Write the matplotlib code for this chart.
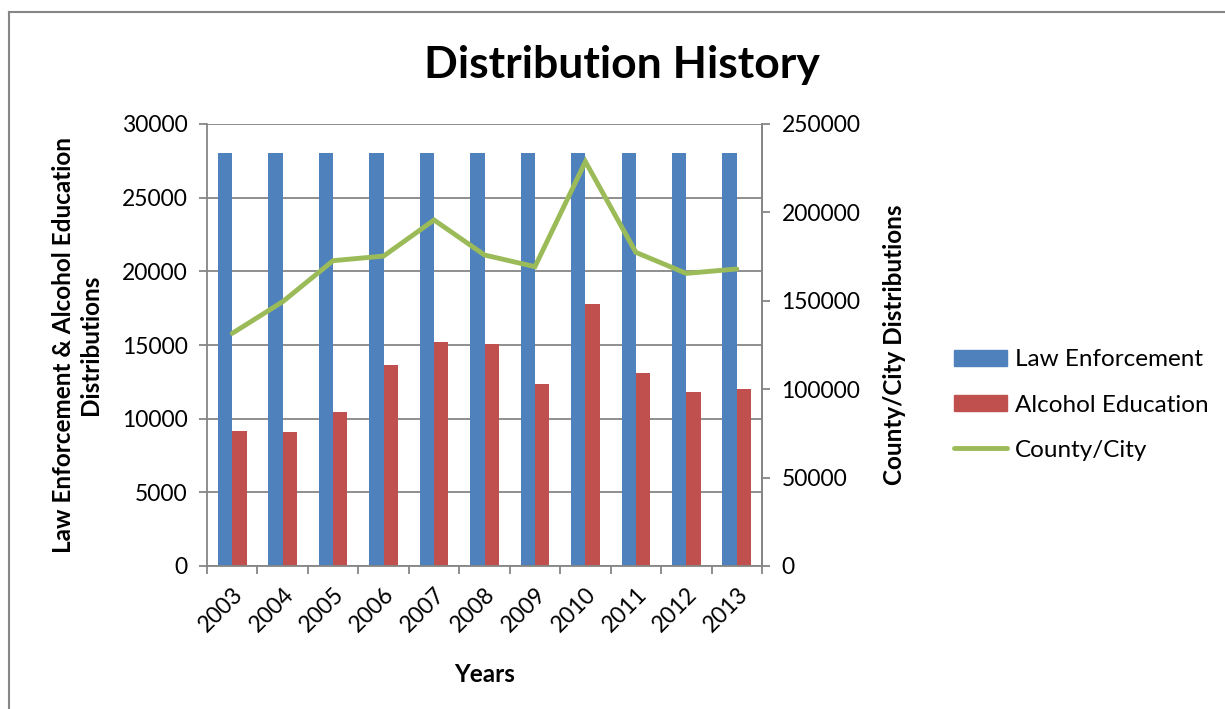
import matplotlib
matplotlib.use("Agg")
import matplotlib.pyplot as plt
import numpy as np
from matplotlib.lines import Line2D

years = ["2003", "2004", "2005", "2006", "2007", "2008", "2009", "2010", "2011", "2012", "2013"]
law_enforcement = [28000, 28000, 28000, 28000, 28000, 28000, 28000, 28000, 28000, 28000, 28000]
alcohol_education = [9160, 9120, 10450, 13620, 15200, 15090, 12350, 17780, 13080, 11830, 12040]
county_city = [131600, 149500, 172700, 175300, 195700, 175900, 169300, 228700, 177400, 165500, 168000]

plt.rcParams['font.family'] = ['Lato', 'DejaVu Sans']

BLUE = "#4F81BD"
RED = "#C0504D"
GREEN = "#9BBB59"
GRID = "#868686"

fig = plt.figure(figsize=(12.25, 7.09), dpi=100)
ax = fig.add_axes([207/1225, 1-566/709, (762-207)/1225, (566-124)/709])

x = np.arange(len(years))
w = 0.283
ax.bar(x - w/2, law_enforcement, width=w, color=BLUE, label="Law Enforcement", zorder=2)
ax.bar(x + w/2, alcohol_education, width=w, color=RED, label="Alcohol Education", zorder=2)
ax.set_xlim(-0.5, len(years) - 0.5)
ax.set_ylim(0, 30000)
ax.set_yticks(np.arange(0, 30001, 5000))
ax.yaxis.grid(True, color=GRID, linewidth=1.3)
ax.set_axisbelow(True)

ax.set_xticks(np.arange(-0.5, len(years), 1.0))
ax.set_xticklabels([])
ax.set_xticks(x, minor=True)
ax.set_xticklabels(years, minor=True, rotation=45, ha='right', va='top',
                   rotation_mode='anchor', fontsize=16.5)
ax.tick_params(axis='x', which='minor', length=0, pad=13)
ax.tick_params(axis='x', which='major', length=6, color=GRID, width=1.3)
ax.tick_params(axis='y', length=6, color=GRID, width=1.3, labelsize=16.5, pad=8)

for s in ['left', 'bottom', 'right']:
    ax.spines[s].set_color(GRID)
    ax.spines[s].set_linewidth(1.3)
ax.spines['top'].set_visible(False)

ax.set_ylabel("Law Enforcement & Alcohol Education\nDistributions", fontsize=17.5,
              fontweight='bold', labelpad=14, linespacing=1.2)
ax.set_xlabel("Years", fontsize=17.5, fontweight='bold', labelpad=19)

ax2 = ax.twinx()
ax2.plot(x, county_city, color=GREEN, linewidth=3.5, solid_capstyle='round',
         solid_joinstyle='miter', label="County/City", zorder=3)
ax2.set_ylim(0, 250000)
ax2.set_yticks(np.arange(0, 250001, 50000))
ax2.tick_params(axis='y', length=6, color=GRID, width=1.3, labelsize=16.5, pad=8)
for s in ['left', 'bottom', 'right', 'top']:
    ax2.spines[s].set_visible(False)
ax2.spines['right'].set_visible(True)
ax2.spines['right'].set_color(GRID)
ax2.spines['right'].set_linewidth(1.3)
ax2.set_ylabel("County/City Distributions", fontsize=17.5, fontweight='bold', labelpad=16)

fig.text(622/1225, 1-65/709, "Distribution History", fontsize=32, fontweight='bold',
         ha='center', va='center')

handles = [plt.Rectangle((0, 0), 1, 1, color=BLUE),
           plt.Rectangle((0, 0), 1, 1, color=RED),
           Line2D([0], [0], color=GREEN, linewidth=3.5, solid_capstyle='round')]
labels = ["Law Enforcement", "Alcohol Education", "County/City"]
fig.legend(handles, labels, loc='center left', bbox_to_anchor=(932/1225, 1-405/709),
           frameon=False, fontsize=17.5, handlelength=2.2, handleheight=0.65,
           labelspacing=1.0, handletextpad=0.3)

# chart area border (top and left edges visible)
fig.add_artist(Line2D([9/1225, 1.0], [1-12/709, 1-12/709], color=GRID, linewidth=1.5,
                      transform=fig.transFigure))
fig.add_artist(Line2D([9/1225, 9/1225], [1-12/709, 0.0], color=GRID, linewidth=1.5,
                      transform=fig.transFigure))

fig.savefig("out.png", dpi=100)
